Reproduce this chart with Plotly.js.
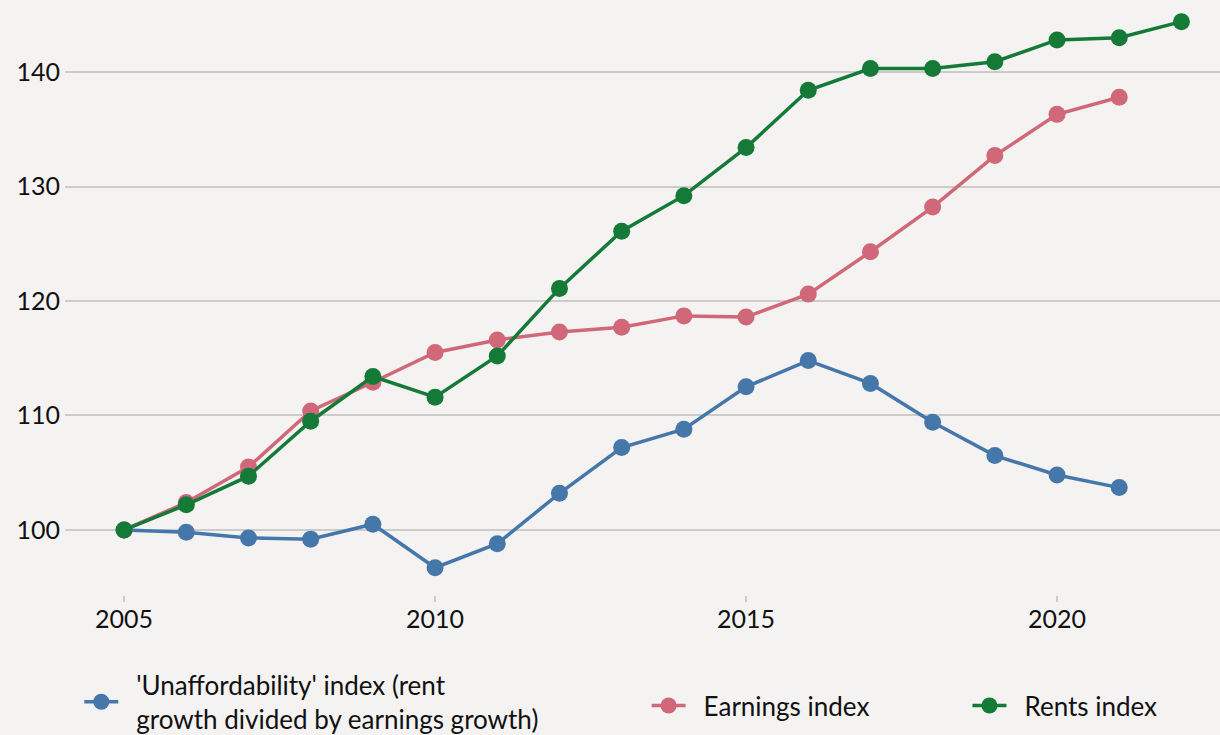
<!DOCTYPE html>
<html><head><meta charset="utf-8">
<script src="https://cdn.plot.ly/plotly-3.0.1.min.js"></script>
<style>html,body{margin:0;padding:0;background:#f4f3f1;}#chart{width:1220px;height:735px;}</style>
</head><body><div id="chart"></div>
<script>
const years = [2005,2006,2007,2008,2009,2010,2011,2012,2013,2014,2015,2016,2017,2018,2019,2020,2021,2022];
const unaffordability = [100,99.8,99.3,99.2,100.5,96.7,98.8,103.2,107.2,108.8,112.5,114.8,112.8,109.4,106.5,104.8,103.7];
const earnings = [100,102.4,105.5,110.4,112.9,115.5,116.6,117.3,117.7,118.7,118.6,120.6,124.3,128.2,132.7,136.3,137.8];
const rents = [100,102.2,104.7,109.5,113.4,111.6,115.2,121.1,126.1,129.2,133.4,138.4,140.3,140.3,140.9,142.8,143.0,144.4];
const names = ["'Unaffordability' index (rent<br>growth divided by earnings growth)", "Earnings index", "Rents index"];
const colors = ["#4677aa", "#d0687a", "#157a38"];
const yTicks = [100,110,120,130,140];
const xTicks = [2005,2010,2015,2020];

const FONT = "Lato, sans-serif";
const GAP = "\u2002";
function legendName(n){ return n.split('<br>').map(s => GAP + s).join('<br>'); }
function tr(y, i, leg){
  return {x: years.slice(0, y.length), y: y, name: legendName(names[i]), type: 'scatter', mode: 'lines+markers',
    line: {color: colors[i], width: 3.5}, marker: {color: colors[i], size: 17}, legend: leg};
}
const data = [tr(unaffordability,0,'legend'), tr(earnings,1,'legend2'), tr(rents,2,'legend3')];
const legBase = {orientation:'h', xref:'container', yref:'container', yanchor:'middle', bgcolor:'rgba(0,0,0,0)',
  font:{family:FONT, size:26, color:'#111'}, itemwidth:34};
const layout = {
  width:1220, height:735,
  paper_bgcolor:'#f4f3f1', plot_bgcolor:'#f4f3f1',
  margin:{l:65, r:0, t:0, b:140},
  font:{family:FONT, size:25, color:'#111'},
  xaxis:{range:[2004.05, 2022.62], tickvals:xTicks, ticks:'outside', ticklen:6, tickwidth:2, tickcolor:'#cccccc',
    ticklabelstandoff:-4,
    showgrid:false, zeroline:false, showline:false, tickfont:{family:FONT,size:25,color:'#111'}},
  yaxis:{range:[94.32, 146.29], tickvals:yTicks, showgrid:true, gridcolor:'#cccccc', gridwidth:2, zeroline:false,
    ticklabelstandoff:4,
    showline:false, ticks:'', tickfont:{family:FONT,size:25,color:'#111'}},
  legend: Object.assign({}, legBase, {x:0.065, y:0.045}),
  legend2: Object.assign({}, legBase, {x:0.53, y:0.04}),
  legend3: Object.assign({}, legBase, {x:0.793, y:0.04}),
  showlegend:true
};
Plotly.newPlot('chart', data, layout, {displayModeBar:false});
</script></body></html>
